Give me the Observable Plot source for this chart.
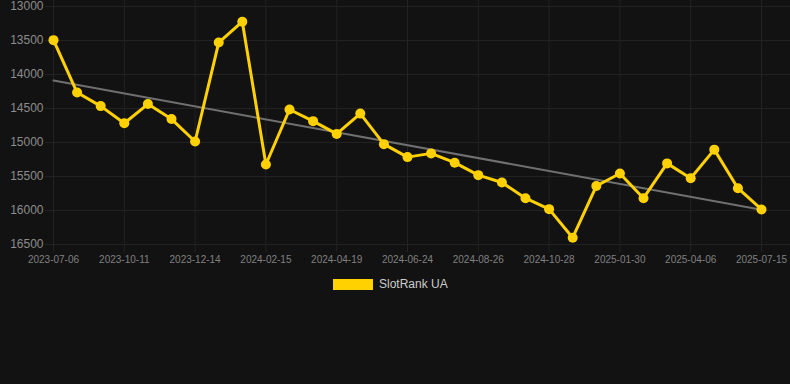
<!DOCTYPE html>
<html><head><meta charset="utf-8">
<script src="https://cdn.jsdelivr.net/npm/d3@7"></script>
<script src="https://cdn.jsdelivr.net/npm/@observablehq/plot@0.6"></script>
<style>
html,body{margin:0;padding:0;background:#121212;width:790px;height:384px;overflow:hidden;font-family:"Liberation Sans",Arial,sans-serif;}
#wrap{position:relative;width:790px;height:384px;}
#legend{position:absolute;left:333px;top:277px;display:flex;align-items:center;gap:6px;font-size:12px;color:#cccccc;line-height:14px;}
#legend .sw{width:40px;height:11px;background:#FFD100;display:inline-block;}
</style></head><body>
<div id="wrap"><div id="chart"></div><div id="legend"><span class="sw"></span><span id="lname"></span></div></div>
<script>
const seriesName = "SlotRank UA";
const dateLabels = ["2023-07-06","2023-10-11","2023-12-14","2024-02-15","2024-04-19","2024-06-24","2024-08-26","2024-10-28","2025-01-30","2025-04-06","2025-07-15"];
const rankValues = [13495,14265,14465,14717,14435,14655,14985,13530,13223,15324,14515,14686,14874,14575,15024,15215,15160,15297,15480,15588,15819,15980,16400,15640,15456,15819,15307,15525,15105,15672,15985];
const yTicks = [13000,13500,14000,14500,15000,15500,16000,16500];

const data = rankValues.map((v, i) => ({i, v}));
const xTicks = dateLabels.map((d, k) => k * 3);

const plot = Plot.plot({
  width: 790, height: 270,
  marginLeft: 53, marginRight: 29, marginTop: 6, marginBottom: 26,
  style: {background: "#121212", fontFamily: "'Liberation Sans', Arial, sans-serif", overflow: "visible"},
  x: {type: "linear", domain: [0, rankValues.length - 1], label: null},
  y: {domain: [13000, 16500], reverse: true, label: null},
  marks: [
    Plot.gridY(yTicks, {stroke: "#222222", strokeOpacity: 1, insetLeft: -8, insetRight: -29}),
    Plot.gridX(xTicks, {stroke: "#222222", strokeOpacity: 1, insetBottom: -8, insetTop: -6}),
    Plot.axisY(yTicks, {label: null, tickSize: 0, tickPadding: 10, fill: "#8c8c8c", fontSize: 12, tickFormat: d => String(d)}),
    Plot.axisX(xTicks, {label: null, tickSize: 0, tickPadding: 11, fill: "#808080", fontSize: 10, tickFormat: i => dateLabels[i / 3]}),
    Plot.linearRegressionY(data, {x: "i", y: "v", ci: 0, stroke: "#707070", strokeWidth: 2}),
    Plot.line(data, {x: "i", y: "v", stroke: "#FFD100", strokeWidth: 3}),
    Plot.dot(data, {x: "i", y: "v", r: 5, fill: "#FFD100"})
  ]
});
document.getElementById("chart").appendChild(plot);
document.getElementById("lname").textContent = seriesName;
</script>
</body></html>
